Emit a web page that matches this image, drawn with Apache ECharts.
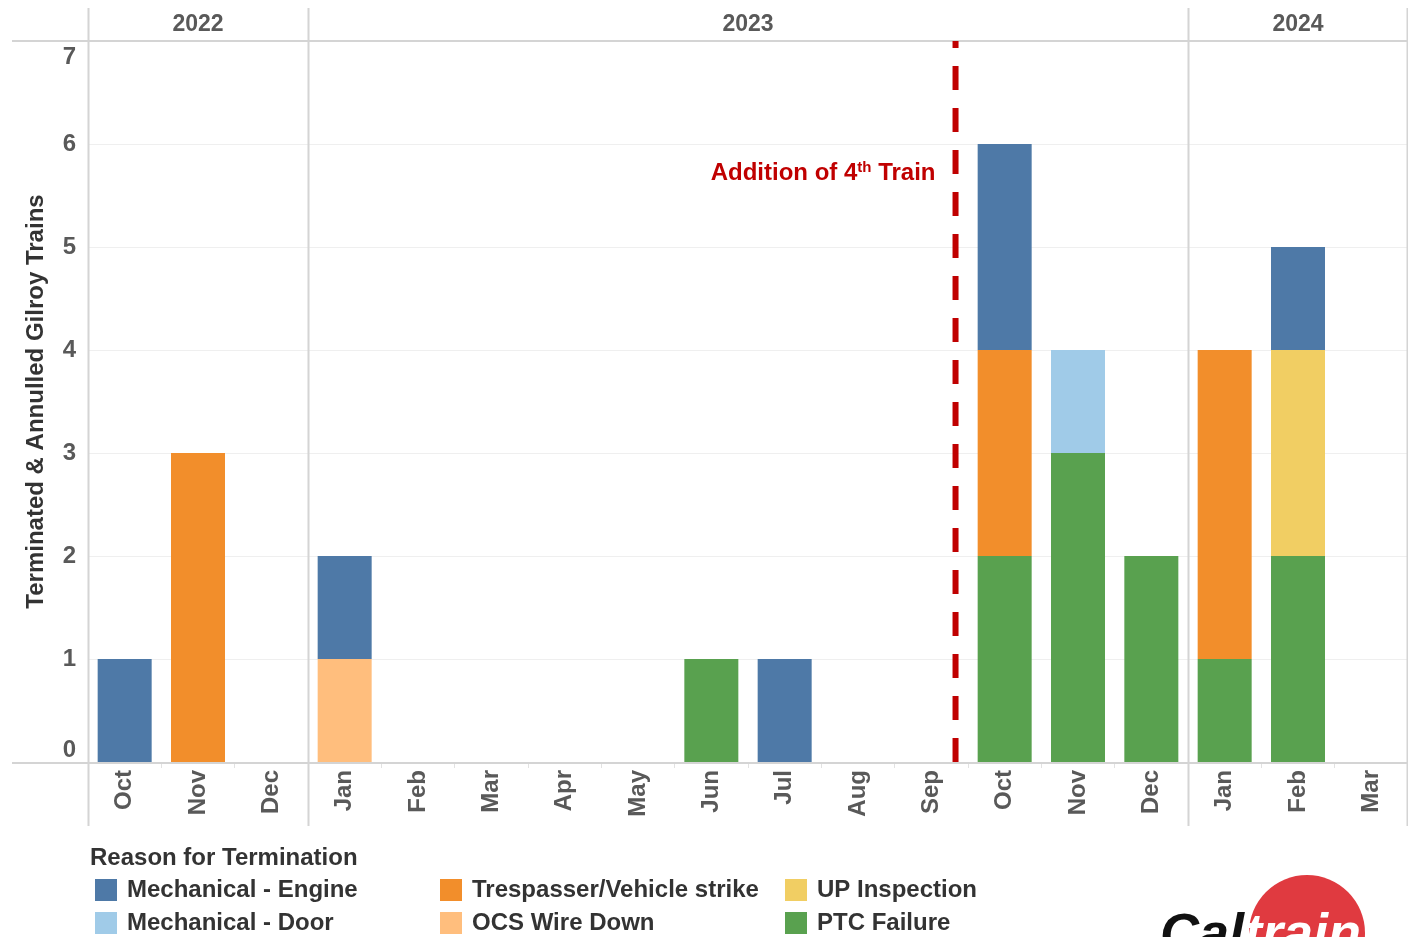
<!DOCTYPE html>
<html>
<head>
<meta charset="utf-8">
<script src="https://cdn.jsdelivr.net/npm/echarts@6/dist/echarts.min.js"></script>
<style>
html,body{margin:0;padding:0;background:#fff;}
#chart{width:1408px;height:937px;}
</style>
</head>
<body>
<div id="chart"></div>
<script>
const categories = ['Oct 2022','Nov 2022','Dec 2022','Jan 2023','Feb 2023','Mar 2023','Apr 2023','May 2023','Jun 2023','Jul 2023','Aug 2023','Sep 2023','Oct 2023','Nov 2023','Dec 2023','Jan 2024','Feb 2024','Mar 2024'];
const yearGroups = [['2022', 0, 3], ['2023', 3, 15], ['2024', 15, 18]];
const yTicks = [0, 1, 2, 3, 4, 5, 6, 7];

const ptcFailure      = [0,0,0,0,0,0,0,0,1,0,0,0,2,3,2,1,2,0];
const ocsWireDown     = [0,0,0,1,0,0,0,0,0,0,0,0,0,0,0,0,0,0];
const trespasser      = [0,3,0,0,0,0,0,0,0,0,0,0,2,0,0,3,0,0];
const upInspection    = [0,0,0,0,0,0,0,0,0,0,0,0,0,0,0,0,2,0];
const mechanicalDoor  = [0,0,0,0,0,0,0,0,0,0,0,0,0,1,0,0,0,0];
const mechanicalEngine= [1,0,0,1,0,0,0,0,0,1,0,0,2,0,0,0,1,0];

const legendColumns = [
  ['Mechanical - Engine', 'Mechanical - Door'],
  ['Trespasser/Vehicle strike', 'OCS Wire Down'],
  ['UP Inspection', 'PTC Failure']
];

const fourthTrainAt = 11.83; // position on the month scale (0..18)

const FONT = '"Liberation Sans", Arial, sans-serif';
const chart = echarts.init(document.getElementById('chart'));

function bar(name, data, color) {
  return { name, type: 'bar', stack: 'total', data, barWidth: 54,
    itemStyle: { color }, emphasis: { disabled: true }, silent: true };
}

const legendText = { fontSize: 24, fontWeight: 'bold', color: '#333', fontFamily: FONT, padding: [0, 0, 0, 5] };
const legendLefts = [95, 440, 785];
const legendTops = [878, 911];
const legends = [];
legendColumns.forEach((col, ci) => col.forEach((name, ri) => {
  legends.push({ left: legendLefts[ci], top: legendTops[ri], orient: 'horizontal', itemWidth: 22, itemHeight: 22,
    padding: 0, icon: 'rect', selectedMode: false, data: [name], textStyle: legendText });
}));

chart.setOption({
  animation: false,
  textStyle: { fontFamily: FONT },
  grid: { left: 88, right: 0, top: 41, bottom: 175, containLabel: false },
  title: { text: 'Reason for Termination', left: 90, top: 846, padding: 0,
    textStyle: { fontSize: 24, fontWeight: 'bold', color: '#333', fontFamily: FONT } },
  legend: legends,
  xAxis: [{
    type: 'category', data: categories, boundaryGap: true,
    axisLine: { show: false },
    axisTick: { show: true, interval: 0, length: 6, lineStyle: { color: '#e2e2e2' } },
    axisLabel: { interval: 0, rotate: 90, margin: 8, fontSize: 24, fontWeight: 'bold', color: '#595959',
      fontFamily: FONT, formatter: v => v.split(' ')[0] }
  }, {
    type: 'value', min: 0, max: 18, show: false
  }],
  yAxis: {
    type: 'value', min: 0, max: 7, interval: 1,
    name: 'Terminated & Annulled Gilroy Trains', nameLocation: 'middle', nameGap: 40, nameRotate: 90,
    nameTextStyle: { fontSize: 24, fontWeight: 'bold', color: '#333', fontFamily: FONT },
    axisLine: { show: false }, axisTick: { show: false },
    axisLabel: { fontSize: 24, fontWeight: 'bold', color: '#595959', margin: 12, fontFamily: FONT,
      verticalAlignMinLabel: 'bottom', verticalAlignMaxLabel: 'top',
      formatter: v => yTicks.includes(v) ? (v === 7 ? '{t|7}' : String(v)) : '',
      rich: { t: { fontSize: 24, fontWeight: 'bold', color: '#595959', fontFamily: FONT, padding: [4, 0, 0, 0] } } },
    splitLine: { lineStyle: { color: '#efefef', width: 1 } }
  },
  series: [
    bar('PTC Failure', ptcFailure, '#59a14f'),
    bar('OCS Wire Down', ocsWireDown, '#ffbe7d'),
    bar('Trespasser/Vehicle strike', trespasser, '#f28e2b'),
    bar('UP Inspection', upInspection, '#f1ce63'),
    bar('Mechanical - Door', mechanicalDoor, '#a0cbe8'),
    bar('Mechanical - Engine', mechanicalEngine, '#4e79a7'),
    { name: '4th train', type: 'line', xAxisIndex: 1, yAxisIndex: 0, z: 10, silent: true,
      data: [[fourthTrainAt, 0], [fourthTrainAt, 7]], symbol: 'none',
      lineStyle: { color: '#c00000', width: 6, type: [24, 18] } }
  ]
});

// Build frame / header graphics from the axis scales
const c0 = chart.convertToPixel({ xAxisIndex: 0 }, 0);
const c1 = chart.convertToPixel({ xAxisIndex: 0 }, 1);
const band = c1 - c0;
const edge = i => c0 - band / 2 + i * band;
const yTop = chart.convertToPixel({ yAxisIndex: 0 }, 7);
const yBot = chart.convertToPixel({ yAxisIndex: 0 }, 0);
const lineX = chart.convertToPixel({ xAxisIndex: 1 }, fourthTrainAt);
const frameColor = '#d4d4d4';

const graphics = [];
const seps = new Set();
yearGroups.forEach(g => { seps.add(g[1]); seps.add(g[2]); });
seps.forEach(i => {
  const x = Math.min(Math.round(edge(i)) + 0.5, 1407.5);
  graphics.push({ type: 'line', silent: true, z: 5,
    shape: { x1: x, y1: 8, x2: x, y2: 826 }, style: { stroke: frameColor, lineWidth: 2 } });
});
graphics.push({ type: 'line', silent: true, z: 5,
  shape: { x1: 12, y1: Math.round(yTop), x2: 1408, y2: Math.round(yTop) }, style: { stroke: frameColor, lineWidth: 2 } });
graphics.push({ type: 'line', silent: true, z: 5,
  shape: { x1: 12, y1: Math.round(yBot) + 1, x2: 1408, y2: Math.round(yBot) + 1 }, style: { stroke: frameColor, lineWidth: 2 } });
yearGroups.forEach(g => {
  graphics.push({ type: 'text', silent: true, x: (edge(g[1]) + edge(g[2])) / 2, y: 25,
    style: { text: g[0], fontSize: 23, fontWeight: 'bold', fill: '#595959', fontFamily: FONT,
      align: 'center', verticalAlign: 'middle' } });
});
graphics.push({ type: 'text', silent: true, x: lineX - 20, y: 173,
  style: { text: 'Addition of 4{sup|th} Train', align: 'right', verticalAlign: 'middle',
    fontSize: 24, fontWeight: 'bold', fill: '#c00000', fontFamily: FONT,
    rich: { sup: { fontSize: 15, fontWeight: 'bold', fill: '#c00000', fontFamily: FONT, verticalAlign: 'top', padding: [0, 0, 11, 0] } } } });
// Caltrain logo
graphics.push({ type: 'circle', silent: true, shape: { cx: 1307, cy: 933, r: 58 }, style: { fill: '#e03a40' } });
graphics.push({ type: 'text', silent: true, x: 1160, y: 909,
  style: { text: '{a|Cal}{b|train}', verticalAlign: 'top', align: 'left',
    rich: {
      a: { fontSize: 54, fontWeight: 900, fontStyle: 'italic', fill: '#111', fontFamily: FONT },
      b: { fontSize: 54, fontWeight: 900, fontStyle: 'italic', fill: '#fff', fontFamily: FONT }
    } } });
chart.setOption({ graphic: graphics });
</script>
</body>
</html>
